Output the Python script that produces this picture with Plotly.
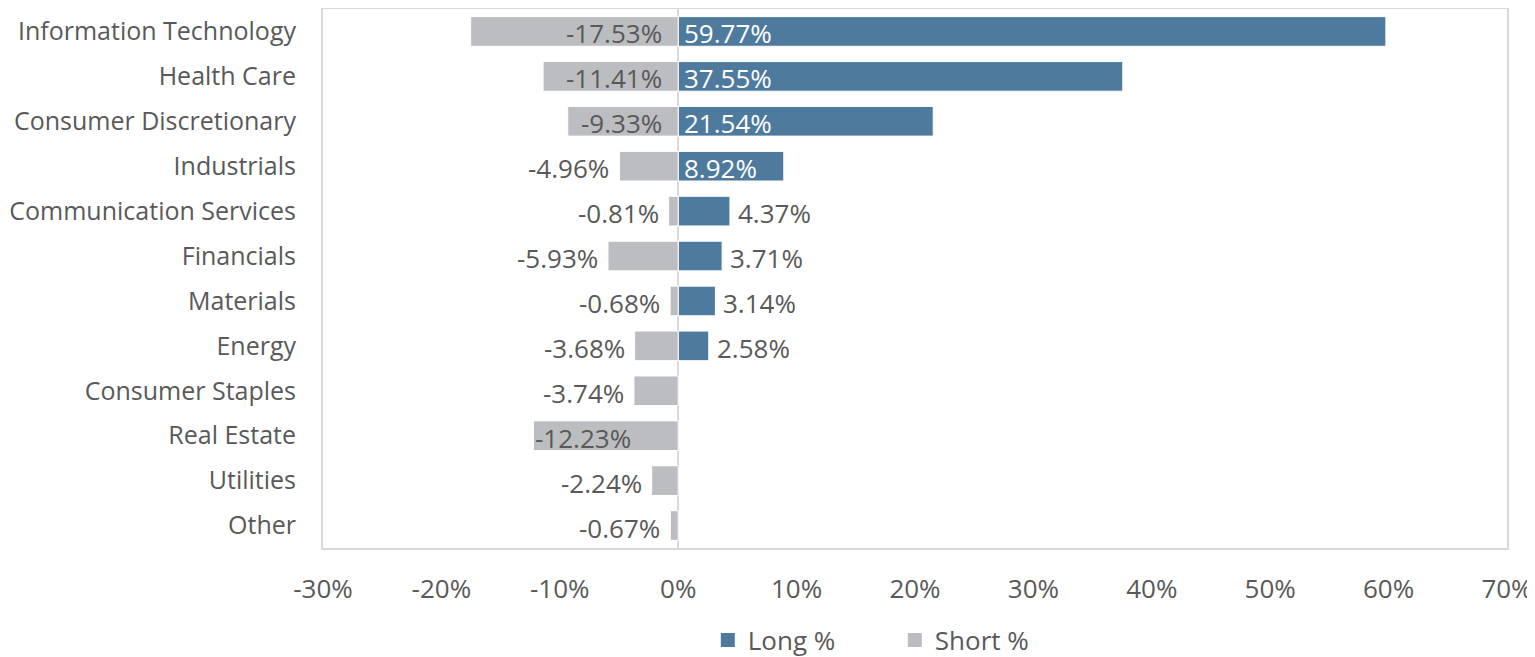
import plotly.graph_objects as go

categories = ["Information Technology", "Health Care", "Consumer Discretionary", "Industrials",
              "Communication Services", "Financials", "Materials", "Energy",
              "Consumer Staples", "Real Estate", "Utilities", "Other"]
long_pct = [59.77, 37.55, 21.54, 8.92, 4.37, 3.71, 3.14, 2.58, None, None, None, None]
short_pct = [-17.53, -11.41, -9.33, -4.96, -0.81, -5.93, -0.68, -3.68, -3.74, -12.23, -2.24, -0.67]
x_ticks = [-30, -20, -10, 0, 10, 20, 30, 40, 50, 60, 70]

# label placement style (not data)
long_label_mode = ["in", "in", "in", "in", "out", "out", "out", "out", None, None, None, None]
short_label_mode = ["base", "base", "base", "out", "out", "out", "out", "out", "out", "end", "out", "out"]

LONG_C = "#4E7A9E"
SHORT_C = "#BCBDC1"
TXT = "#595959"
FONT = "Open Sans"
FS = 26
FS_CAT = 25

fig = go.Figure()
fig.add_trace(go.Bar(y=categories, x=long_pct, orientation="h", name="Long %", showlegend=False,
                     marker=dict(color=LONG_C, line=dict(color="white", width=1)), width=0.66))
fig.add_trace(go.Bar(y=categories, x=short_pct, orientation="h", name="Short %", showlegend=False,
                     marker=dict(color=SHORT_C, line=dict(color="white", width=1)), width=0.66))
# legend entries with square swatches
fig.add_trace(go.Scatter(x=[None], y=[None], mode="markers", name="Long %",
                         marker=dict(symbol="square", size=14, color=LONG_C)))
fig.add_trace(go.Scatter(x=[None], y=[None], mode="markers", name="Short %",
                         marker=dict(symbol="square", size=14, color=SHORT_C)))

ann = []
for c, v, m in zip(categories, long_pct, long_label_mode):
    if v is None:
        continue
    if m == "in":
        ann.append(dict(x=0, y=c, text=f"{v:.2f}%", xanchor="left", xshift=4, yshift=-2, showarrow=False,
                        font=dict(color="white", size=FS, family=FONT)))
    else:
        ann.append(dict(x=v, y=c, text=f"{v:.2f}%", xanchor="left", xshift=6, yshift=-2, showarrow=False,
                        font=dict(color=TXT, size=FS, family=FONT)))
for c, v, m in zip(categories, short_pct, short_label_mode):
    if m == "base":
        ann.append(dict(x=0, y=c, text=f"{v:.2f}%", xanchor="right", xshift=-14, yshift=-2, showarrow=False,
                        font=dict(color=TXT, size=FS, family=FONT)))
    elif m == "end":
        ann.append(dict(x=v, y=c, text=f"{v:.2f}%", xanchor="left", xshift=0, yshift=-2, showarrow=False,
                        font=dict(color=TXT, size=FS, family=FONT)))
    else:
        ann.append(dict(x=v, y=c, text=f"{v:.2f}%", xanchor="right", xshift=-8, yshift=-2, showarrow=False,
                        font=dict(color=TXT, size=FS, family=FONT)))

fig.update_layout(
    width=1527, height=649,
    margin=dict(l=315, r=28, t=1, b=109, autoexpand=False),
    barmode="overlay",
    plot_bgcolor="white", paper_bgcolor="white",
    font=dict(family=FONT, size=FS, color=TXT),
    annotations=ann,
    showlegend=True,
    legend=dict(orientation="h", x=0.325, xanchor="left", yref="container", y=0.026, yanchor="middle",
                font=dict(size=FS, color=TXT, family=FONT), itemwidth=30,
                traceorder="normal", entrywidth=142),
    xaxis=dict(range=[-30, 70], tickvals=x_ticks, ticktext=[f"{t}%" for t in x_ticks],
               showgrid=False, zeroline=True, zerolinecolor="#D9D9D9", zerolinewidth=2,
               showline=True, linecolor="#D9D9D9", linewidth=2, mirror=True,
               ticks="", ticklabelstandoff=17, tickfont=dict(size=FS, color=TXT, family=FONT)),
    yaxis=dict(autorange="reversed", showgrid=False, showline=True, linecolor="#D9D9D9",
               linewidth=2, mirror=True, ticks="", ticklabelstandoff=20,
               tickfont=dict(size=FS_CAT, color=TXT, family=FONT)),
)

fig.write_html("out.html")
